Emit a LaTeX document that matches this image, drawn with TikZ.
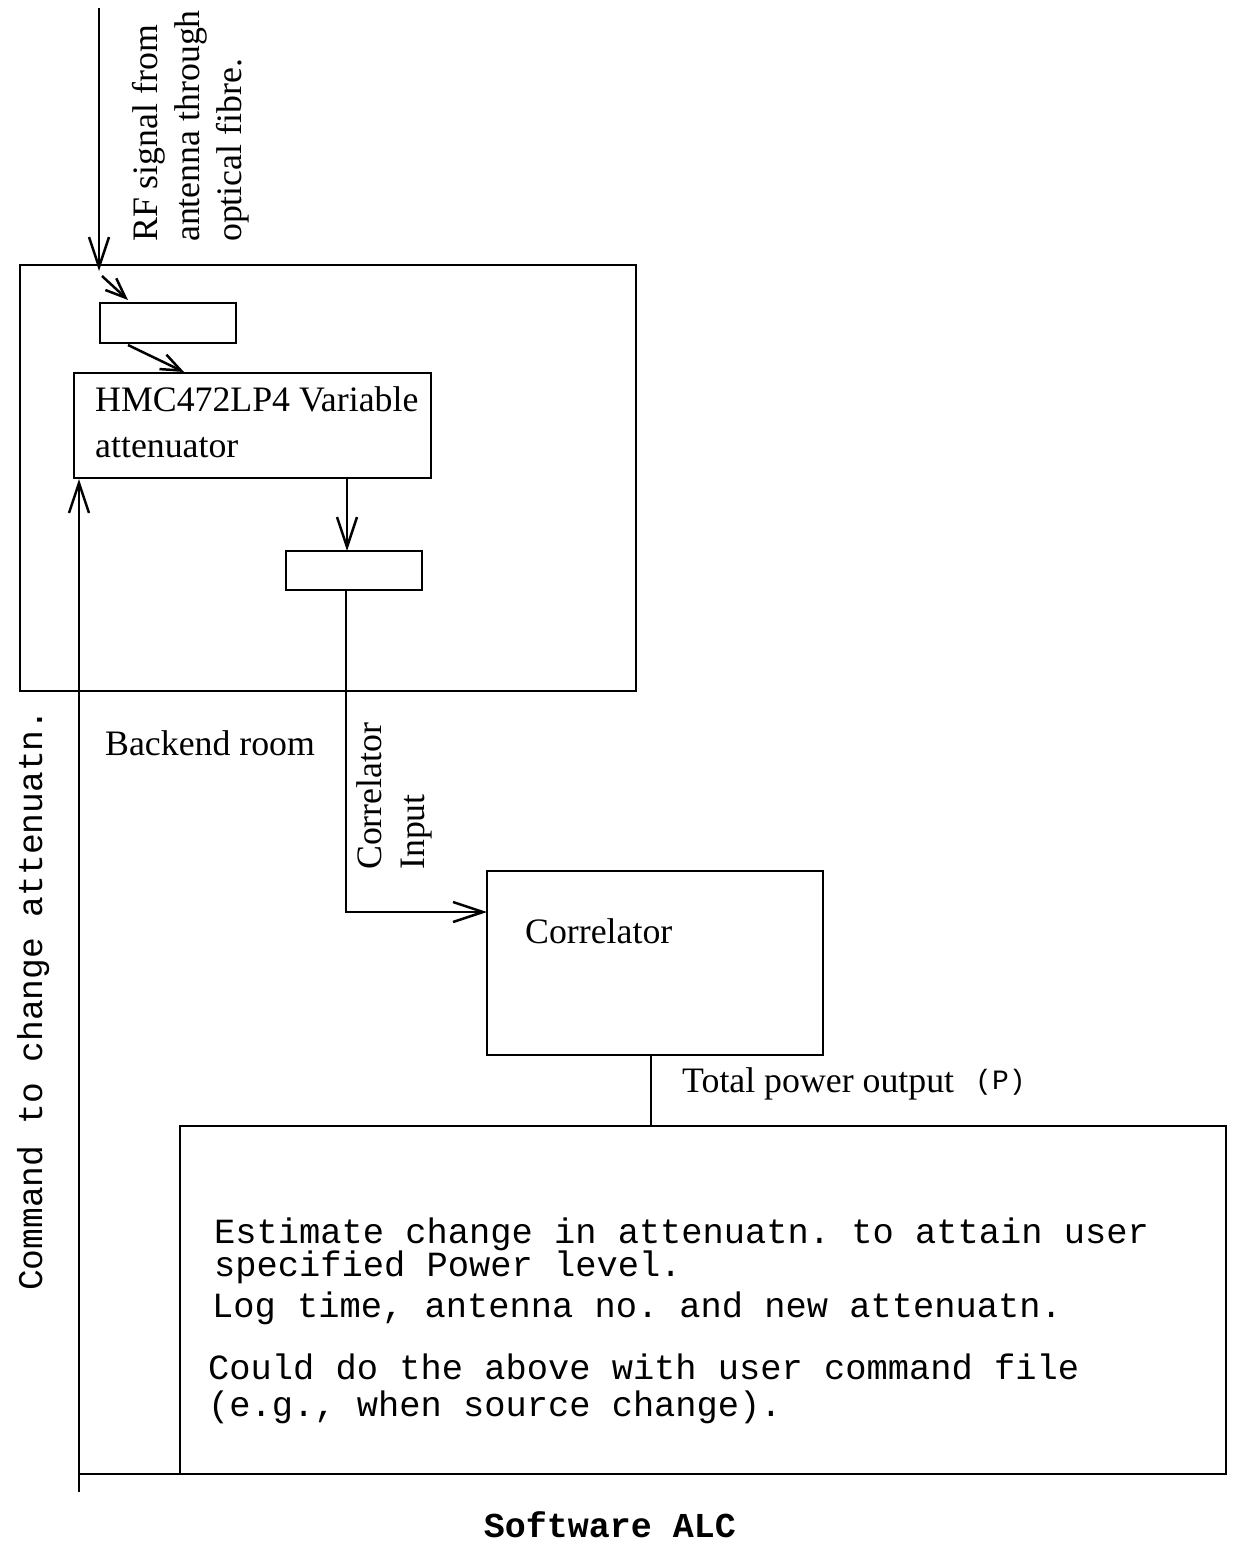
\documentclass[tikz,border=0pt]{standalone}
\usepackage{fontspec}
\setmainfont{Liberation Serif}
\setmonofont{Liberation Mono}
\usetikzlibrary{arrows.meta,calc}
\begin{document}
\begin{tikzpicture}[x=1pt,y=-1pt,
  box/.style={draw,line width=1.5pt,inner sep=0pt},
  conn/.style={line width=2.5pt},
  arr/.style={line width=2.5pt,-{Straight Barb[length=30pt,width=20pt,line width=2.5pt]}},
  arrs/.style={line width=2.5pt,-{Straight Barb[length=20pt,width=16pt,line width=2.5pt]}},
  serif/.style={inner sep=0pt,font=\fontsize{35.8}{42}\selectfont},
  mono/.style={inner sep=0pt,font=\fontsize{35.4}{42}\selectfont\ttfamily},
]
\useasboundingbox (0,0) rectangle (1234,1544);

% boxes
\node[box,minimum width=616pt,minimum height=426pt] (outer) at (328,478) {};
\node[box,minimum width=136pt,minimum height=40pt] (boxa) at (168,323) {};
\node[box,minimum width=357pt,minimum height=105pt] (att) at (252.5,425.5) {};
\node[box,minimum width=136pt,minimum height=39pt] (boxb) at (354,570.5) {};
\node[box,minimum width=336pt,minimum height=184pt] (corr) at (655,963) {};
\node[box,minimum width=1046pt,minimum height=348pt] (soft) at (703,1300) {};

% texts
\node[serif,anchor=base west] (t1) at (95,411) {HMC472LP4 Variable};
\node[serif,anchor=base west] (t2) at (95,457) {attenuator};
\node[serif,anchor=base west] (t3) at (105,755) {Backend room};
\node[serif,anchor=base west] (t4) at (525,943) {Correlator};
\node[serif,anchor=base west] (t5) at (682,1092) {Total power output};
\node[mono,anchor=base west,font=\fontsize{28}{32}\selectfont\ttfamily] (t6) at (975,1089) {(P)};
\node[serif,anchor=base west,rotate=90] (r1) at (157,242) {RF signal from};
\node[serif,anchor=base west,rotate=90] (r2) at (199,242) {antenna through};
\node[serif,anchor=base west,rotate=90] (r3) at (241,242) {optical fibre.};
\node[serif,anchor=base west,rotate=90] (c1) at (381,870) {Correlator};
\node[serif,anchor=base west,rotate=90] (c2) at (424,870) {Input};
\node[mono,anchor=base west,rotate=90,font=\fontsize{34.6}{42}\selectfont\ttfamily] (cmd) at (42,1291) {Command to change attenuatn.};
\node[mono,anchor=base west] (s1) at (214,1243) {Estimate change in attenuatn. to attain user};
\node[mono,anchor=base west] (s2) at (214,1276) {specified Power level.};
\node[mono,anchor=base west] (s3) at (212,1317) {Log time, antenna no. and new attenuatn.};
\node[mono,anchor=base west] (s4) at (208,1379) {Could do the above with user command file};
\node[mono,anchor=base west] (s5) at (208,1416) {(e.g., when source change).};
\node[anchor=base,font=\fontsize{35}{42}\selectfont\ttfamily\bfseries,inner sep=0pt] (title) at (610,1537) {Software ALC};

% coordinates
\coordinate (rftop) at (99,8);
\coordinate (rfin) at (99,271);
\coordinate (d1s) at (102,276);
\coordinate (d1e) at (128,300);
\coordinate (d2s) at (128,345);
\coordinate (d2e) at (184,372);
\coordinate (attout) at (347,478);
\coordinate (bin) at (347,551);
\coordinate (bout) at (346,590);
\coordinate (cin) at (487,912);
\coordinate (pout) at (651,1055);
\coordinate (pin) at (651,1126);
\coordinate (cmdbot) at (79,1492);
\coordinate (cmdtop) at (79,479);
\coordinate (cmdcorner) at (79,1474);
\coordinate (softcorner) at (185,1474);

% connectors
\draw[arr] (rftop) -- (rfin);
\draw[arrs] (d1s) -- (d1e);
\draw[arrs] (d2s) -- (d2e);
\draw[arr] (attout) -- (bin);
\draw[arr] (bout) |- (cin);
\draw[conn] (pout) -- (pin);
\draw[arr] (cmdbot) -- (cmdtop);
\draw[conn] (cmdcorner) -- (softcorner);
\end{tikzpicture}
\end{document}
